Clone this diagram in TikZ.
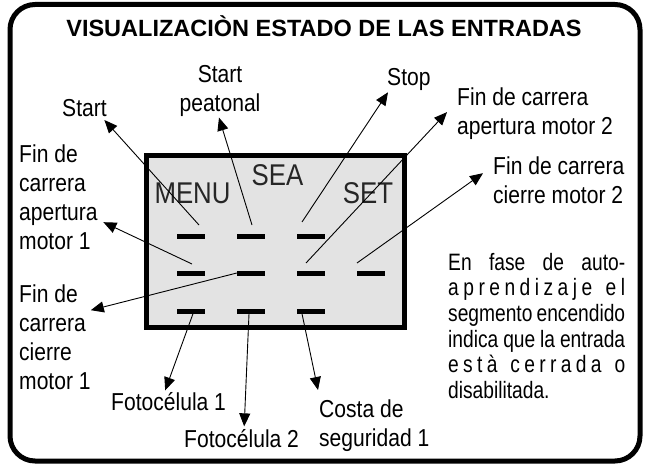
\documentclass[tikz,border=0pt]{standalone}
\usepackage{fontspec}
\setmainfont{Liberation Sans}[FakeStretch=0.86]
\newfontfamily\titlefont{Liberation Sans}
\newfontfamily\notafont{Liberation Sans}[FakeStretch=0.81]
\usetikzlibrary{arrows.meta}

\newcommand{\jl}[1]{\makebox[177pt][s]{#1}}
\newcommand{\ls}{\hfill}
\newcommand{\ws}{\hfill\hfill\hfill}

\begin{document}
\begin{tikzpicture}[
    x=1pt, y=-1pt,
    >={Triangle[length=13pt, width=11pt]},
    marco/.style={draw, line width=5pt, rounded corners=25pt, minimum width=630pt, minimum height=456.5pt, inner sep=0pt},
    titulo/.style={inner sep=0pt, font=\titlefont\bfseries\fontsize{23.5}{26}\selectfont},
    lcd/.style={draw, line width=5pt, fill=black!11, minimum width=258pt, minimum height=172pt, inner sep=0pt},
    lcdtxt/.style={inner sep=0pt, text=black!85, font=\fontsize{30}{31}\selectfont},
    seg/.style={rectangle, fill=black, minimum width=28pt, minimum height=5pt, inner sep=0pt},
    etiq/.style={inner sep=0pt, align=left, font=\fontsize{24.5}{29}\selectfont},
    flecha/.style={->, line width=0.9pt}
]
    \useasboundingbox (0,0) rectangle (645,468);

    % Frame and title
    \node[marco] (marco) at (325,232.75) {};
    \node[titulo, anchor=base] (titulo) at (324,37) {VISUALIZACIÒN ESTADO DE LAS ENTRADAS};

    % Display
    \node[lcd] (lcd) at (275.5,241.5) {};
    \node[lcdtxt, anchor=base] (menu) at (192.5,203) {MENU};
    \node[lcdtxt, anchor=base] (sea) at (277.5,185) {SEA};
    \node[lcdtxt, anchor=base] (set) at (368,203) {SET};

    % Segments
    \foreach \n/\x/\y in {11/191/236, 12/251/236, 13/311/236,
                          21/191/273, 22/251/273, 23/311/273, 24/371/273,
                          31/191/311, 32/251/311, 33/311/311}
        \node[seg] (s\n) at (\x,\y) {};

    % Labels
    \node[etiq, anchor=base west] (lStart) at (62,117) {Start};
    \node[etiq, anchor=north, align=center] (lPeat) at (220,65) {Start\\peatonal};
    \node[etiq, anchor=base west] (lStop) at (387,86) {Stop};
    \node[etiq, anchor=north west] (lFca2) at (457,88) {Fin de carrera\\apertura motor 2};
    \node[etiq, anchor=north west] (lFcc2) at (493,157) {Fin de carrera\\cierre motor 2};
    \node[etiq, anchor=north west] (lFca1) at (19,145) {Fin de\\carrera\\apertura\\motor 1};
    \node[etiq, anchor=north west] (lFcc1) at (19,285) {Fin de\\carrera\\cierre\\motor 1};
    \node[etiq, anchor=base west] (lFoto1) at (111,410) {Fotocélula 1};
    \node[etiq, anchor=base west] (lFoto2) at (184,447) {Fotocélula 2};
    \node[etiq, anchor=north west] (lCosta) at (319,400) {Costa de\\seguridad 1};

    % Note
    \node[inner sep=0pt, anchor=north west, align=left, font=\notafont\fontsize{23.7}{25.6}\selectfont] (nota) at (448,253) {%
        \jl{En fase de auto-}\\
        \jl{a\ls p\ls r\ls e\ls n\ls d\ls i\ls z\ls a\ls j\ls e\ws e\ls l}\\
        \jl{segmento encendido}\\
        \jl{indica que la entrada}\\
        \jl{e\ls s\ls t\ls à\ws c\ls e\ls r\ls r\ls a\ls d\ls a\ws o}\\
        disabilitada.};

    % Arrows
    \draw[flecha] ([shift={(8pt,11pt)}]s11.center) -- ([shift={(-2.5pt,-3pt)}]lStart.base east);
    \draw[flecha] ([shift={(1pt,11pt)}]s12.center) -- ([shift={(-1pt,-1pt)}]lPeat.south);
    \draw[flecha] ([shift={(-9pt,14pt)}]s13.center) -- ([shift={(1pt,-1pt)}]lStop.south west);
    \draw[flecha] ([shift={(-5pt,10pt)}]s23.center) -- ([shift={(-10pt,2pt)}]lFca2.west);
    \draw[flecha] ([shift={(-14pt,10pt)}]s24.center) -- ([shift={(-10pt,7.5pt)}]lFcc2.west);
    \draw[flecha] ([shift={(1pt,9pt)}]s21.center) -- ([shift={(5.5pt,-24.5pt)}]lFca1.east);
    \draw[flecha] (s22.west) -- ([yshift=27.5pt]lFcc1.east);
    \draw[flecha] ([xshift=2pt]s31.south) -- ([shift={(-3.4pt,1.4pt)}]lFoto1.north);
    \draw[flecha] ([xshift=-2pt]s32.south) -- ([shift={(2.6pt,2.4pt)}]lFoto2.north);
    \draw[flecha] ([xshift=-9pt]s33.south) -- ([shift={(-1pt,10pt)}]lCosta.north west);

\end{tikzpicture}
\end{document}
